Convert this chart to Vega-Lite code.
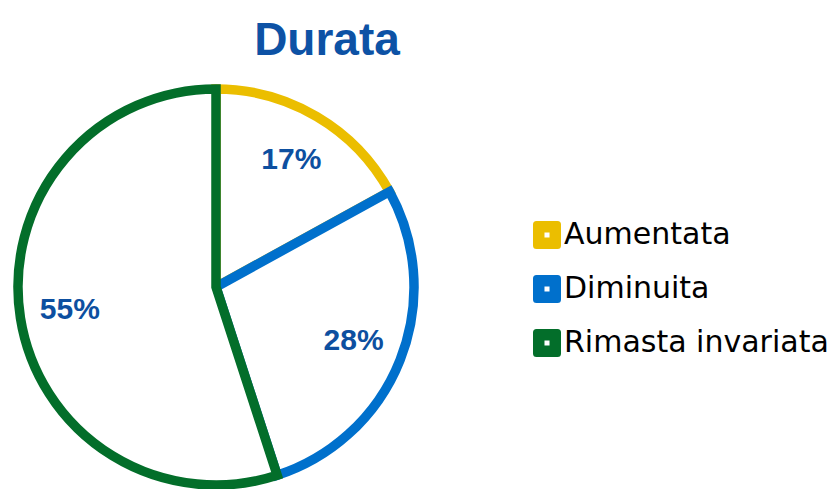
{
  "$schema": "https://vega.github.io/schema/vega-lite/v6.json",
  "autosize": "none",
  "width": 400,
  "height": 400,
  "padding": {"left": 16, "top": 87, "right": 414, "bottom": 2},
  "background": "white",
  "title": {
    "text": "Durata",
    "anchor": "middle",
    "frame": "group",
    "dx": 111,
    "offset": 5,
    "fontSize": 46,
    "font": "Liberation Sans",
    "fontWeight": "bold",
    "color": "#0D52A5"
  },
  "data": {
    "values": [
      {"category": "Aumentata", "value": 17, "label": "17%"},
      {"category": "Diminuita", "value": 28, "label": "28%"},
      {"category": "Rimasta invariata", "value": 55, "label": "55%"}
    ]
  },
  "encoding": {
    "theta": {"field": "value", "type": "quantitative", "stack": true}
  },
  "layer": [
    {
      "mark": {"type": "arc", "outerRadius": 0, "innerRadius": 0},
      "encoding": {
        "color": {
          "field": "category",
          "type": "nominal",
          "sort": null,
          "scale": {
            "domain": ["Aumentata", "Diminuita", "Rimasta invariata"],
            "range": ["#EBBE00", "#0070CC", "#036E2A"]
          },
          "legend": {
            "title": null,
            "orient": "none",
            "legendX": 516,
            "legendY": 133,
            "symbolType": "M-1,-0.75 Q-1,-1 -0.75,-1 L0.75,-1 Q1,-1 1,-0.75 L1,0.75 Q1,1 0.75,1 L-0.75,1 Q-1,1 -1,0.75 Z M-0.18,-0.18 L-0.18,0.18 L0.18,0.18 L0.18,-0.18 Z",
            "symbolSize": 784,
            "symbolStrokeWidth": 0,
            "symbolOpacity": 1,
            "labelFont": "DejaVu Sans",
            "labelFontSize": 30,
            "labelColor": "#000000",
            "labelOffset": 2,
            "labelLimit": 400,
            "rowPadding": 24
          }
        },
        "order": {"field": "value", "type": "quantitative", "sort": "ascending"}
      }
    },
    {
      "mark": {"type": "arc", "outerRadius": 198, "fill": "white", "strokeWidth": 9.5, "strokeJoin": "miter"},
      "encoding": {
        "stroke": {
          "field": "category",
          "type": "nominal",
          "sort": null,
          "scale": {
            "domain": ["Aumentata", "Diminuita", "Rimasta invariata"],
            "range": ["#EBBE00", "#0070CC", "#036E2A"]
          },
          "legend": null
        },
        "order": {"field": "value", "type": "quantitative", "sort": "ascending"}
      }
    },
    {
      "mark": {"type": "text", "radius": 148, "font": "Liberation Sans", "fontWeight": "bold", "fontSize": 30, "color": "#0D4FA0", "baseline": "middle", "align": "center"},
      "encoding": {
        "text": {"field": "label", "type": "nominal"}
      }
    }
  ]
}
